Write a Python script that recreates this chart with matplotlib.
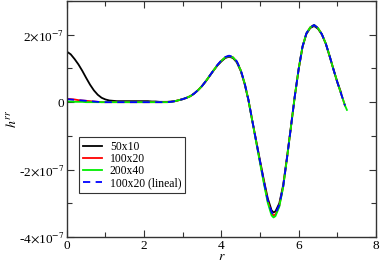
import matplotlib
matplotlib.use("Agg")
import matplotlib.pyplot as plt
from matplotlib.ticker import FixedLocator, FixedFormatter, MultipleLocator

plt.rcParams['font.family'] = ['Liberation Serif', 'DejaVu Serif']
plt.rcParams['mathtext.fontset'] = 'stix'

# r grid (shared)
r = [0.0, 0.1, 0.2, 0.3, 0.4, 0.5, 0.6, 0.7, 0.8, 0.9, 1.0, 1.1, 1.2, 1.3, 1.4,
     1.5, 1.6, 1.7, 1.8, 1.9, 2.0, 2.1, 2.2, 2.3, 2.4, 2.5, 2.6, 2.7, 2.8, 2.9,
     3.0, 3.1, 3.2, 3.3, 3.4, 3.5, 3.6, 3.7, 3.8, 3.9, 4.0, 4.1, 4.2, 4.3, 4.4,
     4.5, 4.6, 4.7, 4.8, 4.9, 5.0, 5.1, 5.2, 5.3, 5.35, 5.4, 5.5, 5.6, 5.7, 5.8,
     5.9, 6.0, 6.1, 6.2, 6.3, 6.4, 6.5, 6.6, 6.7, 6.8, 6.9, 7.0, 7.1, 7.2, 7.25]

# values in units of 1e-7
h_50x10 = [1.50, 1.42, 1.28, 1.12, 0.93, 0.72, 0.52, 0.35, 0.22, 0.13, 0.08, 0.05, 0.04, 0.03, 0.03,
           0.03, 0.03, 0.03, 0.03, 0.03, 0.03, 0.03, 0.02, 0.02, 0.01, 0.01, 0.01, 0.02, 0.03, 0.06,
           0.09, 0.13, 0.18, 0.26, 0.36, 0.48, 0.62, 0.78, 0.94, 1.09, 1.21, 1.31, 1.35, 1.31, 1.18,
           0.93, 0.55, 0.06, -0.55, -1.14, -1.73, -2.31, -2.85, -3.21, -3.27, -3.24, -3.00, -2.46, -1.62, -0.73,
           0.17, 0.97, 1.63, 2.02, 2.20, 2.26, 2.18, 2.01, 1.74, 1.37, 0.98, 0.60, 0.28, None, None]
h_100x20 = [0.10, 0.09, 0.08, 0.06, 0.05, 0.04, 0.03, 0.02, 0.01, 0.00, 0.00, 0.00, 0.00, 0.00, 0.00,
            0.00, 0.00, 0.00, 0.00, 0.00, 0.00, 0.00, 0.00, 0.00, 0.00, 0.00, 0.00, 0.01, 0.03, 0.06,
            0.09, 0.13, 0.18, 0.26, 0.36, 0.48, 0.63, 0.79, 0.95, 1.10, 1.23, 1.33, 1.37, 1.33, 1.20,
            0.95, 0.57, 0.07, -0.55, -1.16, -1.77, -2.37, -2.93, -3.30, -3.36, -3.33, -3.07, -2.51, -1.65, -0.75,
            0.17, 0.98, 1.65, 2.04, 2.22, 2.29, 2.20, 2.02, 1.75, 1.38, 0.98, 0.60, 0.25, -0.10, None]
h_200x40 = [0.02, 0.02, 0.01, 0.01, 0.01, 0.00, 0.00, 0.00, 0.00, 0.00, 0.00, 0.00, 0.00, 0.00, 0.00,
            0.00, 0.00, 0.00, 0.00, 0.00, 0.00, 0.00, 0.00, 0.00, 0.00, 0.00, 0.00, 0.01, 0.03, 0.06,
            0.09, 0.13, 0.18, 0.26, 0.36, 0.48, 0.63, 0.79, 0.95, 1.10, 1.23, 1.33, 1.37, 1.33, 1.20,
            0.95, 0.57, 0.07, -0.56, -1.18, -1.80, -2.41, -2.98, -3.36, -3.42, -3.38, -3.10, -2.52, -1.66, -0.75,
            0.17, 0.98, 1.65, 2.04, 2.22, 2.29, 2.20, 2.02, 1.75, 1.38, 0.98, 0.60, 0.25, -0.10, -0.23]
h_100x20_lineal = [0.09, 0.08, 0.07, 0.06, 0.05, 0.04, 0.03, 0.02, 0.01, 0.00, 0.00, 0.00, 0.00, 0.00, 0.00,
                   0.00, 0.00, 0.00, 0.00, 0.00, 0.00, 0.00, 0.00, 0.00, 0.00, 0.00, 0.00, 0.01, 0.03, 0.06,
                   0.09, 0.13, 0.18, 0.26, 0.36, 0.48, 0.63, 0.79, 0.95, 1.11, 1.24, 1.34, 1.38, 1.34, 1.21,
                   0.96, 0.58, 0.08, -0.54, -1.15, -1.75, -2.35, -2.90, -3.27, -3.33, -3.30, -3.05, -2.50, -1.65, -0.75,
                   0.17, 0.98, 1.65, 2.04, 2.22, 2.29, 2.20, 2.02, 1.75, 1.38, 0.98, 0.60, 0.25, -0.10, None]

series = [
    ("50x10", h_50x10, "#000000", "-"),
    ("100x20", h_100x20, "#ff0000", "-"),
    ("200x40", h_200x40, "#00ee00", "-"),
    ("100x20 (lineal)", h_100x20_lineal, "#0000ff", (0, (4, 3))),
]

ytick_vals = [-4e-7, -2e-7, 0, 2e-7]
ytick_labels = [r"-4$\times$10$^{-7}$", r"-2$\times$10$^{-7}$", "0", r"2$\times$10$^{-7}$"]
xtick_vals = [0, 2, 4, 6, 8]

fig = plt.figure(figsize=(3.82, 2.62), dpi=100)
ax = fig.add_axes([0.175, 0.0954, 0.809, 0.9006])

for label, vals, color, ls in series:
    xs = [x for x, v in zip(r, vals) if v is not None]
    ys = [v * 1e-7 for v in vals if v is not None]
    ax.plot(xs, ys, color=color, linestyle=ls, linewidth=1.3, label=label)

ax.set_xlim(0, 8)
ax.set_ylim(-4e-7, 3e-7)
ax.xaxis.set_major_locator(FixedLocator(xtick_vals))
ax.xaxis.set_minor_locator(MultipleLocator(1))
ax.yaxis.set_major_locator(FixedLocator(ytick_vals))
ax.yaxis.set_major_formatter(FixedFormatter(ytick_labels))
ax.yaxis.set_minor_locator(MultipleLocator(1e-7))
ax.tick_params(which='both', direction='in', top=True, right=True, labelsize=9.5, pad=2, width=0.8, color='#333333')
ax.tick_params(which='major', length=5)
ax.tick_params(which='minor', length=3.5)
for s in ax.spines.values():
    s.set_linewidth(1.0)
    s.set_color('#333333')

ax.set_xlabel(r"$r$", fontsize=10, labelpad=-1)
ax.set_ylabel(r"$h^{rr}$", fontsize=10, labelpad=0)

leg = ax.legend(loc='upper left', bbox_to_anchor=(0.039, 0.423), borderaxespad=0,
                fontsize=8.4, handlelength=1.6, handletextpad=0.7, labelspacing=0.0,
                borderpad=0.35, fancybox=False, framealpha=1, edgecolor='#333333')
leg.get_frame().set_linewidth(0.8)

fig.savefig("out.png", dpi=100)
